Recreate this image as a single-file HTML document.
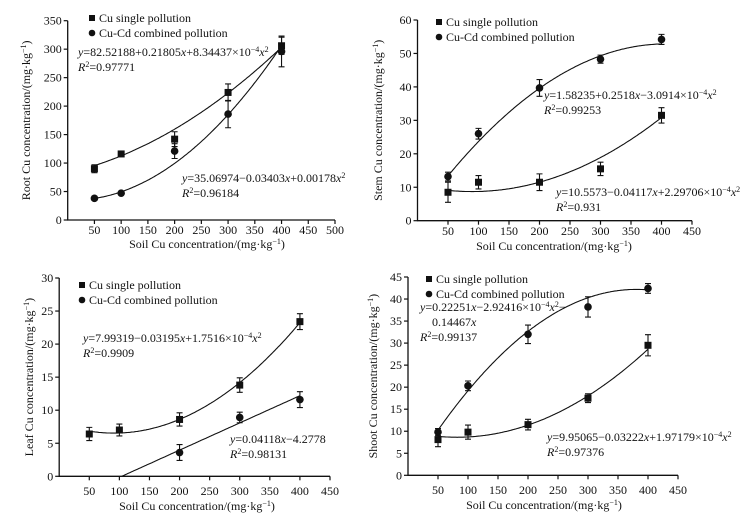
<!DOCTYPE html>
<html><head><meta charset="utf-8">
<style>
html,body{margin:0;padding:0;background:#fff;}
svg{display:block;font-family:"Liberation Serif",serif;}
text{fill:#111;}
</style></head>
<body>
<svg id="fig" width="744" height="525" viewBox="0 0 744 525"></svg>
<script>
// Shared category values (soil Cu concentration)
const xValues = [50,100,200,300,400];

// Root panel
const rootSingle = [90,116,142,224,306];
const rootSingleErr = [7,3,13,15,15];
const rootCombined = [38,47,121,186,296];
const rootCombinedErr = [2,2,13,24,27];
const rootSingleCoef = [82.52188,0.21805,8.34437e-4];
const rootCombinedCoef = [35.06974,-0.03403,0.00178];
const rootYTicks = [0,50,100,150,200,250,300,350];
const rootXTicks = [50,100,150,200,250,300,350,400,450,500];

// Stem panel
const stemSingle = [8.5,11.5,11.5,15.5,31.5];
const stemSingleErr = [3,2,2.5,2,2.3];
const stemCombined = [13.2,26,39.7,48.3,54.2];
const stemCombinedErr = [1.3,1.6,2.5,1.2,1.5];
const stemSingleCoef = [10.5573,-0.04117,2.29706e-4];
const stemCombinedCoef = [1.58235,0.2518,-3.0914e-4];
const stemYTicks = [0,10,20,30,40,50,60];
const stemXTicks = [50,100,150,200,250,300,350,400,450];

// Leaf panel
const leafSingle = [6.4,7,8.6,13.8,23.4];
const leafSingleErr = [1,0.9,1,1.1,1.2];
const leafCombined = [null,null,3.6,8.9,11.6];
const leafCombinedErr = [0,0,1.2,0.8,1.2];
const leafSingleCoef = [7.99319,-0.03195,1.7516e-4];
const leafCombinedCoef = [-4.2778,0.04118,0];
const leafYTicks = [0,5,10,15,20,25,30];
const leafXTicks = [50,100,150,200,250,300,350,400,450];

// Shoot panel
const shootSingle = [8.1,9.8,11.5,17.5,29.5];
const shootSingleErr = [1.6,1.6,1.2,1,2.4];
const shootCombined = [9.8,20.3,32,38.2,42.4];
const shootCombinedErr = [0.8,1.1,2.1,2.3,1.1];
const shootSingleCoef = [9.95065,-0.03222,1.97179e-4];
const shootCombinedCoef = [-0.14467,0.22251,-2.92416e-4];
const shootYTicks = [0,5,10,15,20,25,30,35,40,45];
const shootXTicks = [50,100,150,200,250,300,350,400,450];

const NS="http://www.w3.org/2000/svg";
const svg=document.getElementById('fig');
function el(tag,attrs,parent){const e=document.createElementNS(NS,tag);for(const k in attrs)e.setAttribute(k,attrs[k]);(parent||svg).appendChild(e);return e;}

const panels=[
 {key:'root',title:'Root',x0:67.7,x1:335,xmax:500,y0:220,y1:20.7,ymax:350,yt:rootYTicks,xt:rootXTicks,
  s:rootSingle,se:rootSingleErr,c:rootCombined,ce:rootCombinedErr,sc:rootSingleCoef,cc:rootCombinedCoef,cStart:50,
  leg:[92,18],ytx:30,xtc:207,xty:248,tly:234,
  eqs:[[78,56,'<tspan font-style="italic">y</tspan>=82.52188+0.21805<tspan font-style="italic">x</tspan>+8.34437×10<tspan dy="-4" font-size="8">−4</tspan><tspan dy="4" font-style="italic">x</tspan><tspan dy="-4" font-size="8">2</tspan>'],
       [78,71,'<tspan font-style="italic">R</tspan><tspan dy="-4" font-size="8">2</tspan><tspan dy="4">=0.97771</tspan>'],
       [182,182,'<tspan font-style="italic">y</tspan>=35.06974−0.03403<tspan font-style="italic">x</tspan>+0.00178<tspan font-style="italic">x</tspan><tspan dy="-4" font-size="8">2</tspan>'],
       [182,197,'<tspan font-style="italic">R</tspan><tspan dy="-4" font-size="8">2</tspan><tspan dy="4">=0.96184</tspan>']]},
 {key:'stem',title:'Stem',x0:417.5,x1:692,xmax:450,y0:220.7,y1:20,ymax:60,yt:stemYTicks,xt:stemXTicks,
  s:stemSingle,se:stemSingleErr,c:stemCombined,ce:stemCombinedErr,sc:stemSingleCoef,cc:stemCombinedCoef,cStart:50,
  leg:[439,22],ytx:382,xtc:554,xty:250,tly:235,
  eqs:[[544,99,'<tspan font-style="italic">y</tspan>=1.58235+0.2518<tspan font-style="italic">x</tspan>−3.0914×10<tspan dy="-4" font-size="8">−4</tspan><tspan dy="4" font-style="italic">x</tspan><tspan dy="-4" font-size="8">2</tspan>'],
       [544,114,'<tspan font-style="italic">R</tspan><tspan dy="-4" font-size="8">2</tspan><tspan dy="4">=0.99253</tspan>'],
       [556,196,'<tspan font-style="italic">y</tspan>=10.5573−0.04117<tspan font-style="italic">x</tspan>+2.29706×10<tspan dy="-4" font-size="8">−4</tspan><tspan dy="4" font-style="italic">x</tspan><tspan dy="-4" font-size="8">2</tspan>'],
       [556,211,'<tspan font-style="italic">R</tspan><tspan dy="-4" font-size="8">2</tspan><tspan dy="4">=0.931</tspan>']]},
 {key:'leaf',title:'Leaf',x0:59.2,x1:330,xmax:450,y0:476.3,y1:278,ymax:30,yt:leafYTicks,xt:leafXTicks,
  s:leafSingle,se:leafSingleErr,c:leafCombined,ce:leafCombinedErr,sc:leafSingleCoef,cc:leafCombinedCoef,cStart:104,
  leg:[82,285],ytx:33,xtc:197,xty:510,tly:495,
  eqs:[[83,342,'<tspan font-style="italic">y</tspan>=7.99319−0.03195<tspan font-style="italic">x</tspan>+1.7516×10<tspan dy="-4" font-size="8">−4</tspan><tspan dy="4" font-style="italic">x</tspan><tspan dy="-4" font-size="8">2</tspan>'],
       [83,357,'<tspan font-style="italic">R</tspan><tspan dy="-4" font-size="8">2</tspan><tspan dy="4">=0.9909</tspan>'],
       [230,443,'<tspan font-style="italic">y</tspan>=0.04118<tspan font-style="italic">x</tspan>−4.2778'],
       [230,458,'<tspan font-style="italic">R</tspan><tspan dy="-4" font-size="8">2</tspan><tspan dy="4">=0.98131</tspan>']]},
 {key:'shoot',title:'Shoot',x0:408,x1:678,xmax:450,y0:475.3,y1:277,ymax:45,yt:shootYTicks,xt:shootXTicks,
  s:shootSingle,se:shootSingleErr,c:shootCombined,ce:shootCombinedErr,sc:shootSingleCoef,cc:shootCombinedCoef,cStart:50,
  leg:[429,279],ytx:377,xtc:544,xty:509,tly:494,
  eqs:[[420,311,'<tspan font-style="italic">y</tspan>=0.22251<tspan font-style="italic">x</tspan>−2.92416×10<tspan dy="-4" font-size="8">−4</tspan><tspan dy="4" font-style="italic">x</tspan><tspan dy="-4" font-size="8">2</tspan><tspan dy="4">−</tspan>'],
       [432,326,'0.14467<tspan font-style="italic">x</tspan>'],
       [420,341,'<tspan font-style="italic">R</tspan><tspan dy="-4" font-size="8">2</tspan><tspan dy="4">=0.99137</tspan>'],
       [547,441,'<tspan font-style="italic">y</tspan>=9.95065−0.03222<tspan font-style="italic">x</tspan>+1.97179×10<tspan dy="-4" font-size="8">−4</tspan><tspan dy="4" font-style="italic">x</tspan><tspan dy="-4" font-size="8">2</tspan>'],
       [547,456,'<tspan font-style="italic">R</tspan><tspan dy="-4" font-size="8">2</tspan><tspan dy="4">=0.97376</tspan>']]}
];

panels.forEach(p=>{
  const g=el('g',{});
  
  
  const X=v=>p.x0+(p.x1-p.x0)*v/p.xmax;
  const Y=v=>p.y0+(p.y1-p.y0)*v/p.ymax;
  const ax=el('path',{d:`M${p.x0},${p.y1}V${p.y0}H${p.x1}`,stroke:'#111',fill:'none','stroke-width':1.3},g);
  
  
  p.yt.forEach(t=>{
    el('line',{x1:p.x0-4,x2:p.x0,y1:Y(t),y2:Y(t),stroke:'#111','stroke-width':1.2},g);
    const tx=el('text',{x:p.x0-6,y:Y(t)+4,'text-anchor':'end','font-size':12},g);
    tx.textContent=t;
    
    
  });
  p.xt.forEach(t=>{
    el('line',{x1:X(t),x2:X(t),y1:p.y0,y2:p.y0+4,stroke:'#111','stroke-width':1.2},g);
    const tx=el('text',{x:X(t),y:p.tly,'text-anchor':'middle','font-size':12},g);
    tx.textContent=t;
    
    
  });
  const xt=el('text',{x:p.xtc,y:p.xty,'text-anchor':'middle','font-size':12},g);
  xt.innerHTML='Soil Cu concentration/(mg·kg<tspan dy="-4" font-size="8">−1</tspan><tspan dy="4">)</tspan>';
  
  
  const yc=(p.y0+p.y1)/2;
  const yt=el('text',{x:p.ytx,y:yc,'text-anchor':'middle','font-size':12,transform:`rotate(-90 ${p.ytx} ${yc})`},g);
  yt.innerHTML=p.title+' Cu concentration/(mg·kg<tspan dy="-4" font-size="8">−1</tspan><tspan dy="4">)</tspan>';
  
  
  [[p.sc,50],[p.cc,p.cStart]].forEach((cf,i)=>{
    let d='';
    for(let x=cf[1];x<=400.01;x+=2){const v=cf[0][0]+cf[0][1]*x+cf[0][2]*x*x;d+=(d?'L':'M')+X(x).toFixed(1)+','+Y(v).toFixed(1);}
    const c=el('path',{d,stroke:'#111',fill:'none','stroke-width':1.1},g);
    
    
  });
  function series(vals,errs,shape,name){
    vals.forEach((v,i)=>{
      if(v===null)return;
      const cx=X(xValues[i]),cy=Y(v),e1=Y(v+errs[i]),e2=Y(v-errs[i]);
      el('path',{d:`M${cx},${e1}V${e2}M${cx-3},${e1}H${cx+3}M${cx-3},${e2}H${cx+3}`,stroke:'#111','stroke-width':1.1},g);
      const m=shape==='sq'?el('rect',{x:cx-3.5,y:cy-3.5,width:7,height:7,fill:'#111'},g):el('circle',{cx,cy,r:3.8,fill:'#111'},g);
      
      
    });
  }
  series(p.s,p.se,'sq','single');
  series(p.c,p.ce,'ci','combined');
  const [lx,ly]=p.leg;
  const l1=el('rect',{x:lx-3,y:ly-3,width:6,height:6,fill:'#111'},g);
  
  
  const t1=el('text',{x:lx+7,y:ly+4,'font-size':12},g);t1.textContent='Cu single pollution';
  
  
  const l2=el('circle',{cx:lx,cy:ly+15,r:3.3,fill:'#111'},g);
  
  
  const t2=el('text',{x:lx+7,y:ly+19,'font-size':12},g);t2.textContent='Cu-Cd combined pollution';
  
  
  p.eqs.forEach(q=>{
    const t=el('text',{x:q[0],y:q[1],'font-size':12},g);
    t.innerHTML=q[2];
    
    
  });
});
</script>
</body></html>
